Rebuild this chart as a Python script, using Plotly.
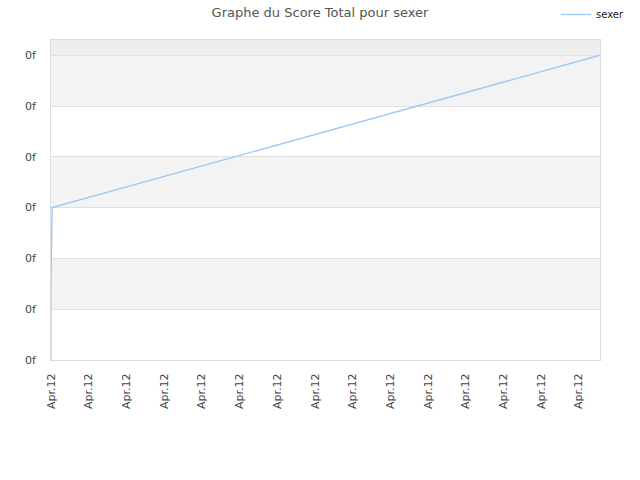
import plotly.graph_objects as go

# data
series_name = "sexer"
x_pos = [0.0, 0.0, 0.03, 14.56]
scores = [0.0, 1.5, 3.0, 6.0]
y_ticks = [0, 1, 2, 3, 4, 5, 6]
y_labels = ["0f"] * 7
x_ticks = list(range(15))
x_labels = ["Apr.12"] * 15

y_top = 6.3
x_end = 14.56

fig = go.Figure()
fig.add_trace(go.Scatter(
    x=x_pos, y=scores, mode="lines", name=series_name,
    line=dict(color="#99c9f5", width=1.3),
))

# alternating bands behind the plot
shapes = []
for i in range(len(y_ticks) - 1):
    if i % 2 == 1:
        shapes.append(dict(type="rect", xref="paper", yref="y", x0=0, x1=1,
                           y0=y_ticks[i], y1=y_ticks[i + 1],
                           fillcolor="#f3f3f3", line_width=0, layer="below"))
shapes.append(dict(type="rect", xref="paper", yref="y", x0=0, x1=1,
                   y0=y_ticks[-1], y1=y_top,
                   fillcolor="#eeeeee", line_width=0, layer="below"))

fig.update_layout(
    width=640, height=480,
    margin=dict(l=51, r=40, t=40, b=120, pad=0, autoexpand=False),
    paper_bgcolor="white", plot_bgcolor="white",
    font=dict(family="DejaVu Sans", size=11, color="#444"),
    title=dict(text="Graphe du Score Total pour sexer", x=0.5, xanchor="center",
               xref="container", yref="container",
               y=1 - 12 / 480, yanchor="middle", pad=dict(t=0, b=0),
               font=dict(size=13, color="#555")),
    showlegend=True,
    legend=dict(x=1 - 11 / 640, y=1 + 2 / 480, xanchor="right", yanchor="top",
                xref="container", yref="container", bgcolor="rgba(0,0,0,0)",
                itemwidth=30, font=dict(size=10, color="#222")),
    shapes=shapes,
)
fig.update_xaxes(range=[0, x_end], tickmode="array", tickvals=x_ticks, ticktext=x_labels,
                 tickangle=-90, showgrid=False, zeroline=False,
                 showline=True, linecolor="#dddddd", mirror=True,
                 ticks="", ticklabelstandoff=8, tickfont=dict(size=11, color="#444"))
fig.update_yaxes(range=[0, y_top], tickmode="array", tickvals=y_ticks, ticktext=y_labels,
                 showgrid=True, gridcolor="#e0e0e0", zeroline=False,
                 showline=True, linecolor="#dddddd", mirror=True,
                 ticks="", ticklabelstandoff=12, tickfont=dict(size=11, color="#444"))

# page body margin would shift the figure by 8px
fig.write_html("out.html", config={"displayModeBar": False},
               post_script="document.body.style.margin='0';")
